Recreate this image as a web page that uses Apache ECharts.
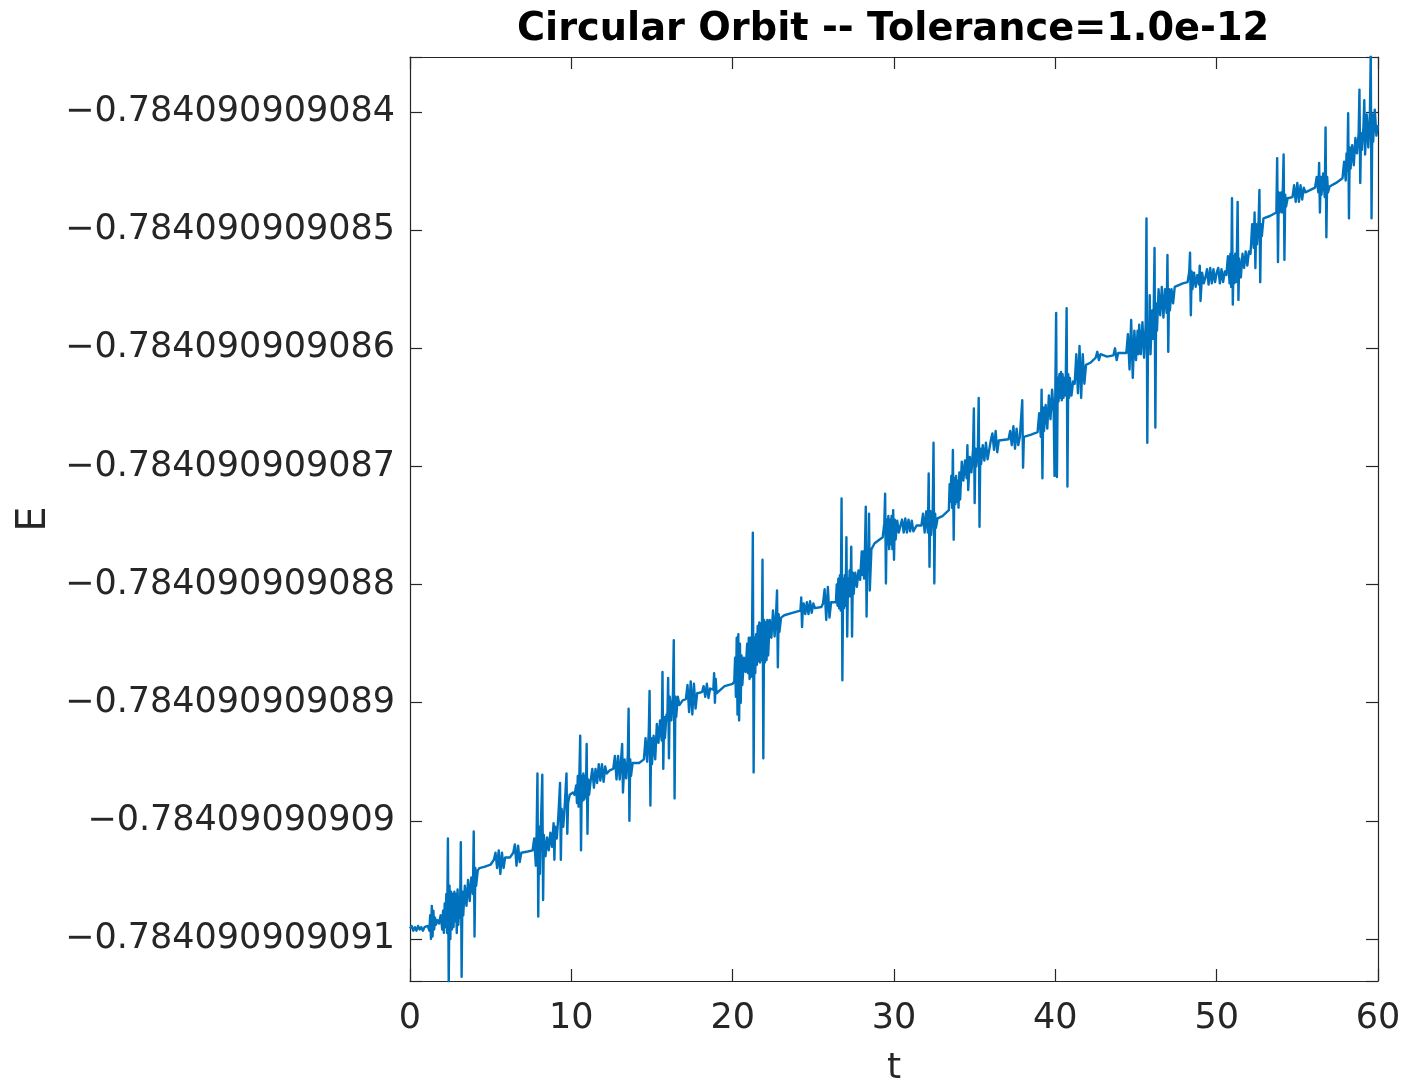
<!DOCTYPE html>
<html>
<head>
<meta charset="utf-8">
<script src="https://cdn.jsdelivr.net/npm/echarts@6/dist/echarts.min.js"></script>
<style>
  html, body { margin: 0; padding: 0; background: #ffffff; }
  #chart { width: 1408px; height: 1084px; }
</style>
</head>
<body>
<div id="chart"></div>
<script>
// Total energy E(t) of a circular orbit integrated with tolerance 1e-12.
// Values are stored as offsets dE from -0.784090909, in units of 1e-12:
// E = -0.784090909 + dE * 1e-12.  Each entry is [t, dE].
const energy0to10 = [
  [0.00,-90.91],[0.10,-90.89],[0.20,-90.93],[0.30,-90.90],[0.40,-90.93],[0.50,-90.89],[0.60,-90.92],
  [0.70,-90.90],[0.80,-90.93],[0.90,-90.90],[1.00,-90.91],[1.10,-90.89],[1.20,-90.93],[1.25,-90.80],
  [1.30,-91.00],[1.35,-90.72],[1.40,-90.98],[1.45,-90.76],[1.50,-90.92],[1.55,-90.82],[1.60,-90.88],
  [1.70,-90.84],[1.80,-90.87],[1.90,-90.80],[2.00,-90.92],[2.05,-90.76],[2.10,-90.95],[2.15,-90.70],
  [2.20,-90.90],[2.25,-90.62],[2.30,-90.95],[2.35,-90.15],[2.40,-91.40],[2.45,-90.55],[2.50,-91.00],
  [2.55,-90.60],[2.60,-90.92],[2.65,-90.62],[2.70,-90.90],[2.75,-90.60],[2.80,-90.85],[2.85,-90.62],
  [2.90,-90.95],[2.95,-90.58],[3.00,-90.88],[3.05,-90.65],[3.10,-90.82],[3.15,-90.18],[3.20,-91.32],
  [3.25,-90.60],[3.30,-90.80],[3.40,-90.55],[3.50,-90.72],[3.60,-90.50],[3.70,-90.68],[3.80,-90.48],
  [3.90,-90.62],[3.95,-90.09],[4.00,-90.98],[4.05,-90.40],[4.10,-90.55],[4.20,-90.42],[4.30,-90.40],
  [4.60,-90.39],[5.00,-90.37],[5.20,-90.33],[5.30,-90.27],[5.40,-90.40],[5.50,-90.25],[5.60,-90.45],
  [5.70,-90.27],[5.80,-90.40],[5.90,-90.31],[6.20,-90.31],[6.40,-90.27],[6.50,-90.20],[6.60,-90.38],
  [6.70,-90.21],[6.80,-90.35],[6.90,-90.27],[7.30,-90.26],[7.60,-90.25],[7.70,-90.15],[7.80,-90.38],
  [7.85,-90.10],[7.90,-89.60],[7.95,-90.81],[8.00,-90.05],[8.05,-90.45],[8.10,-90.10],[8.20,-89.61],
  [8.25,-90.67],[8.30,-90.12],[8.40,-90.30],[8.50,-90.14],[8.60,-90.25],[8.70,-90.10],[8.80,-90.22],
  [8.90,-90.02],[8.95,-90.33],[9.00,-90.05],[9.10,-90.15],[9.20,-89.95],[9.30,-89.68],[9.35,-90.33],
  [9.40,-89.90],[9.50,-90.05],[9.60,-89.85],[9.70,-89.60],[9.75,-90.11],[9.80,-89.85],[9.90,-89.78],
  [10.00,-89.79]
];

const energy10to20 = [
  [10.10,-89.76],[10.20,-89.78],[10.30,-89.70],[10.35,-89.85],[10.40,-89.62],[10.45,-89.88],[10.50,-89.60],
  [10.55,-89.28],[10.60,-90.25],[10.65,-89.62],[10.70,-89.83],[10.75,-89.60],[10.80,-89.82],[10.85,-89.62],
  [10.90,-89.80],[10.95,-89.35],[11.00,-90.11],[11.05,-89.65],[11.10,-89.78],[11.20,-89.66],[11.30,-89.56],
  [11.40,-89.72],[11.50,-89.56],[11.60,-89.68],[11.70,-89.52],[11.80,-89.66],[11.90,-89.52],[12.00,-89.67],
  [12.10,-89.54],[12.20,-89.60],[12.40,-89.57],[12.60,-89.56],[12.70,-89.45],[12.80,-89.65],[12.90,-89.45],
  [13.00,-89.65],[13.10,-89.45],[13.15,-89.35],[13.20,-89.76],[13.30,-89.48],[13.40,-89.64],[13.50,-89.45],
  [13.55,-89.05],[13.60,-90.00],[13.65,-89.48],[13.70,-89.62],[13.80,-89.51],[14.20,-89.51],[14.50,-89.48],
  [14.60,-89.30],[14.70,-89.50],[14.80,-89.25],[14.85,-88.90],[14.90,-89.87],[14.95,-89.30],[15.00,-89.52],
  [15.10,-89.28],[15.20,-89.48],[15.30,-89.18],[15.40,-89.34],[15.50,-89.15],[15.60,-89.32],[15.65,-88.74],
  [15.70,-89.56],[15.75,-89.12],[15.80,-89.30],[15.90,-89.10],[15.95,-89.15],[16.00,-88.79],[16.05,-89.47],
  [16.10,-88.95],[16.20,-89.15],[16.30,-88.92],[16.35,-88.47],[16.40,-89.81],[16.45,-88.95],[16.50,-89.12],
  [16.60,-88.95],[16.70,-89.02],[16.90,-88.98],[17.10,-88.97],[17.20,-88.85],[17.30,-89.08],[17.40,-88.82],
  [17.50,-89.10],[17.60,-88.84],[17.70,-89.05],[17.80,-88.92],[18.10,-88.91],[18.20,-88.86],[18.30,-88.95],
  [18.40,-88.84],[18.50,-88.96],[18.60,-88.88],[18.80,-88.89],[18.85,-88.75],[18.90,-89.00],[18.95,-88.80],
  [19.00,-88.92],[19.50,-88.86],[20.00,-88.84]
];

const energy20to30 = [
  [20.10,-88.82],[20.15,-88.62],[20.20,-88.95],[20.25,-88.45],[20.30,-89.10],[20.35,-88.42],[20.40,-89.15],
  [20.45,-88.50],[20.50,-89.00],[20.55,-88.60],[20.60,-88.85],[20.70,-88.62],[20.80,-88.74],[20.90,-88.50],
  [20.95,-88.75],[21.00,-88.45],[21.05,-88.80],[21.10,-88.45],[21.15,-88.78],[21.20,-88.48],[21.25,-87.56],
  [21.30,-89.59],[21.35,-88.45],[21.40,-88.75],[21.45,-88.42],[21.50,-88.68],[21.55,-88.35],[21.60,-88.65],
  [21.65,-88.32],[21.70,-88.66],[21.75,-88.33],[21.80,-88.64],[21.85,-87.79],[21.90,-89.47],[21.95,-88.30],
  [22.00,-88.66],[22.05,-88.32],[22.10,-88.64],[22.15,-88.30],[22.20,-88.60],[22.30,-88.30],[22.40,-88.45],
  [22.50,-88.22],[22.60,-88.44],[22.70,-88.22],[22.75,-88.05],[22.80,-88.70],[22.85,-88.25],[22.90,-88.40],
  [23.00,-88.28],[23.20,-88.26],[23.70,-88.24],[24.20,-88.22],[24.25,-88.11],[24.30,-88.36],[24.35,-88.20],
  [24.40,-88.16],[24.50,-88.25],[24.60,-88.15],[24.70,-88.25],[24.80,-88.14],[24.90,-88.24],[25.00,-88.16],
  [25.10,-88.20],[25.50,-88.19],[25.60,-88.16],[25.70,-88.04],[25.80,-88.30],[25.90,-88.02],[26.00,-88.28],
  [26.10,-88.15],[26.40,-88.15],[26.45,-88.00],[26.50,-88.18],[26.55,-87.95],[26.60,-88.20],[26.65,-87.92],
  [26.70,-88.22],[26.75,-87.27],[26.80,-88.81],[26.85,-87.95],[26.90,-88.20],[26.95,-87.92],[27.00,-88.18],
  [27.05,-87.60],[27.10,-88.44],[27.15,-87.95],[27.20,-88.10],[27.25,-87.88],[27.30,-88.10],[27.35,-87.68],
  [27.40,-88.44],[27.45,-87.90],[27.50,-88.08],[27.60,-87.90],[27.70,-88.02],[27.80,-87.88],[27.90,-87.96],
  [28.00,-87.72],[28.05,-87.92],[28.10,-87.72],[28.15,-87.95],[28.20,-87.70],[28.25,-87.34],[28.30,-88.27],
  [28.35,-87.75],[28.40,-87.88],[28.45,-87.40],[28.50,-88.05],[28.60,-87.70],[28.80,-87.65],[29.30,-87.60],
  [29.40,-87.48],[29.45,-87.23],[29.50,-87.99],[29.55,-87.45],[29.60,-87.66],[29.65,-87.42],[29.70,-87.70],
  [29.75,-87.45],[29.80,-87.66],[29.85,-87.42],[29.90,-87.70],[29.95,-87.37],[30.00,-87.79]
];

const energy30to40 = [
  [30.05,-87.45],[30.10,-87.62],[30.20,-87.46],[30.30,-87.56],[30.40,-87.50],[30.50,-87.45],[30.60,-87.56],
  [30.70,-87.44],[30.80,-87.56],[30.90,-87.45],[31.00,-87.55],[31.10,-87.46],[31.20,-87.55],[31.40,-87.50],
  [31.70,-87.50],[31.80,-87.40],[31.90,-87.56],[32.00,-87.38],[32.10,-87.56],[32.15,-87.06],[32.20,-87.85],
  [32.25,-87.38],[32.30,-87.58],[32.40,-87.36],[32.45,-86.80],[32.50,-87.99],[32.55,-87.40],[32.60,-87.52],
  [32.70,-87.44],[33.00,-87.42],[33.40,-87.37],[33.45,-87.15],[33.50,-87.30],[33.55,-87.08],[33.60,-87.35],
  [33.65,-86.86],[33.70,-87.62],[33.75,-87.10],[33.80,-87.32],[33.85,-87.08],[33.90,-87.30],[33.95,-87.12],
  [34.00,-87.35],[34.05,-87.05],[34.10,-87.28],[34.20,-86.96],[34.30,-87.12],[34.40,-86.95],[34.50,-87.10],
  [34.55,-86.82],[34.60,-87.20],[34.70,-86.92],[34.80,-87.05],[34.90,-86.85],[34.95,-86.51],[35.00,-87.31],
  [35.05,-86.85],[35.10,-87.00],[35.20,-86.84],[35.25,-86.42],[35.30,-87.51],[35.35,-86.85],[35.40,-86.98],
  [35.50,-86.82],[35.60,-86.95],[35.70,-86.80],[35.80,-86.94],[35.90,-86.86],[36.00,-86.78],[36.10,-86.72],
  [36.20,-86.86],[36.30,-86.70],[36.40,-86.88],[36.50,-86.78],[37.10,-86.77],[37.20,-86.70],[37.30,-86.82],
  [37.40,-86.66],[37.50,-86.85],[37.60,-86.68],[37.70,-86.82],[37.80,-86.75],[37.95,-86.44],[38.00,-87.01],
  [38.05,-86.75],[38.50,-86.73],[38.90,-86.71],[39.00,-86.55],[39.10,-86.75],[39.15,-86.35],[39.20,-87.10],
  [39.25,-86.50],[39.30,-86.70],[39.40,-86.48],[39.50,-86.68],[39.60,-86.40],[39.70,-86.60],[39.80,-86.35],
  [39.90,-86.55],[39.95,-87.08],[40.00,-86.35]
];

const energy40to50 = [
  [40.05,-85.70],[40.10,-87.09],[40.15,-86.25],[40.20,-86.45],[40.25,-86.22],[40.30,-86.42],[40.35,-86.20],
  [40.40,-86.44],[40.45,-86.22],[40.50,-86.42],[40.55,-86.25],[40.60,-86.40],[40.65,-86.22],[40.70,-85.66],
  [40.75,-87.17],[40.80,-86.22],[40.85,-86.42],[40.90,-86.25],[41.00,-86.40],[41.10,-86.28],[41.20,-86.30],
  [41.30,-86.05],[41.40,-86.38],[41.50,-85.98],[41.60,-86.42],[41.70,-86.05],[41.80,-86.30],[41.90,-86.14],
  [42.20,-86.12],[42.50,-86.08],[42.60,-86.03],[42.70,-86.10],[42.80,-86.05],[43.20,-86.07],[43.60,-86.06],
  [43.70,-86.00],[43.80,-86.10],[43.90,-86.04],[44.40,-86.04],[44.50,-85.88],[44.60,-86.18],[44.70,-85.76],
  [44.80,-86.25],[44.90,-85.85],[45.00,-86.10],[45.10,-85.85],[45.15,-86.05],[45.20,-85.80],[45.30,-86.05],
  [45.40,-85.78],[45.50,-86.08],[45.60,-85.80],[45.65,-84.90],[45.70,-86.80],[45.75,-85.82],[45.80,-86.00],
  [45.85,-85.55],[45.90,-86.05],[46.00,-85.68],[46.05,-85.92],[46.10,-85.65],[46.15,-85.15],[46.20,-86.67],
  [46.25,-85.62],[46.30,-85.85],[46.40,-85.50],[46.50,-85.72],[46.60,-85.48],[46.70,-85.74],[46.80,-85.50],
  [46.90,-85.70],[46.95,-85.21],[47.00,-86.03],[47.05,-85.50],[47.10,-85.68],[47.20,-85.50],[47.30,-85.62],
  [47.40,-85.48],[47.50,-85.48],[47.90,-85.45],[48.20,-85.44],[48.30,-85.35],[48.35,-85.19],[48.40,-85.72],
  [48.45,-85.35],[48.50,-85.50],[48.60,-85.36],[48.70,-85.48],[48.80,-85.38],[48.90,-85.46],[48.95,-85.30],
  [49.00,-85.60],[49.10,-85.36],[49.20,-85.45],[49.30,-85.40],[49.40,-85.33],[49.50,-85.46],[49.60,-85.32],
  [49.70,-85.45],[49.80,-85.33],[49.90,-85.44],[50.00,-85.36]
];

const energy50to60 = [
  [50.10,-85.32],[50.20,-85.45],[50.30,-85.33],[50.40,-85.44],[50.50,-85.35],[50.60,-85.38],[50.70,-85.22],
  [50.80,-85.45],[50.85,-85.20],[50.90,-85.48],[50.95,-84.73],[51.00,-85.63],[51.05,-85.22],[51.10,-85.45],
  [51.15,-85.20],[51.20,-85.44],[51.25,-85.22],[51.30,-84.76],[51.35,-85.59],[51.40,-85.24],[51.50,-85.40],
  [51.60,-85.20],[51.70,-85.32],[51.80,-85.18],[51.90,-85.30],[52.00,-85.18],[52.10,-85.20],[52.20,-84.95],
  [52.30,-85.15],[52.35,-84.85],[52.40,-85.32],[52.45,-84.95],[52.50,-85.12],[52.60,-84.92],[52.65,-84.66],
  [52.70,-85.44],[52.75,-84.95],[52.80,-85.05],[52.90,-84.90],[53.30,-84.88],[53.70,-84.85],[53.75,-84.39],
  [53.80,-85.27],[53.85,-84.68],[53.90,-84.85],[54.00,-84.68],[54.05,-84.85],[54.10,-84.66],[54.15,-84.36],
  [54.20,-85.25],[54.25,-84.70],[54.30,-84.80],[54.40,-84.73],[54.70,-84.72],[54.80,-84.62],[54.90,-84.76],
  [55.00,-84.60],[55.10,-84.76],[55.20,-84.62],[55.30,-84.74],[55.40,-84.64],[55.50,-84.68],[56.10,-84.64],
  [56.20,-84.55],[56.30,-84.68],[56.35,-84.43],[56.40,-84.85],[56.45,-84.55],[56.50,-84.70],[56.60,-84.52],
  [56.70,-84.72],[56.75,-84.13],[56.80,-85.06],[56.85,-84.55],[56.90,-84.68],[57.00,-84.63],[57.40,-84.60],
  [57.80,-84.56],[57.90,-84.42],[58.00,-84.58],[58.05,-84.35],[58.10,-84.50],[58.15,-84.01],[58.20,-84.90],
  [58.25,-84.30],[58.30,-84.48],[58.40,-84.28],[58.50,-84.45],[58.60,-84.22],[58.70,-84.35],[58.80,-84.18],
  [58.85,-83.81],[58.90,-84.60],[58.95,-84.18],[59.00,-84.32],[59.10,-84.12],[59.15,-83.90],[59.20,-84.36],
  [59.30,-84.02],[59.40,-84.30],[59.50,-84.00],[59.55,-83.50],[59.60,-84.90],[59.65,-84.02],[59.70,-84.25],
  [59.80,-83.98],[59.90,-84.20],[60.00,-84.11]
];

// Axis ticks (y ticks are the dE offsets and the labels they stand for)
const xTicks = [0, 10, 20, 30, 40, 50, 60];
const yTickOffsets = [-91, -90, -89, -88, -87, -86, -85, -84];
const yTickLabels = [
  '\u22120.784090909091', '\u22120.78409090909', '\u22120.784090909089', '\u22120.784090909088',
  '\u22120.784090909087', '\u22120.784090909086', '\u22120.784090909085', '\u22120.784090909084'
];

// Visible window of the energy axis, in dE units
const yLimits = [-91.356, -83.534];

const energy = [].concat(energy0to10, energy10to20, energy20to30,
                         energy30to40, energy40to50, energy50to60);

const ink = '#262626';
const tickFont = { fontFamily: 'DejaVu Sans', fontSize: 35, color: ink };

function yLabel(value) {
  const i = yTickOffsets.findIndex(v => Math.abs(v - value) < 1e-6);
  return i >= 0 ? yTickLabels[i] : '';
}

function boxAxisCommon() {
  return {
    axisLine: { show: true, onZero: false, lineStyle: { color: ink, width: 1.2 } },
    axisTick: { show: true, inside: true, length: 12, lineStyle: { color: ink, width: 1.2 } },
    splitLine: { show: false },
    minorTick: { show: false }
  };
}

const chart = echarts.init(document.getElementById('chart'), null, { renderer: 'canvas' });

chart.setOption({
  animation: false,
  backgroundColor: '#ffffff',
  title: {
    text: 'Circular Orbit -- Tolerance=1.0e-12',
    left: 517,
    top: 11,
    padding: 0,
    textStyle: { fontFamily: 'DejaVu Sans', fontWeight: 'bold', fontSize: 38.3, color: '#000000' }
  },
  grid: { left: 410, right: 30, top: 57, bottom: 103, containLabel: false, outerBoundsMode: 'none' },
  xAxis: [
    Object.assign(boxAxisCommon(), {
      type: 'value', position: 'bottom',
      min: xTicks[0], max: xTicks[xTicks.length - 1], interval: 10,
      name: 't', nameLocation: 'middle', nameGap: 70,
      nameTextStyle: { fontFamily: 'DejaVu Sans', fontSize: 36, color: ink },
      axisLabel: Object.assign({ margin: 20 }, tickFont)
    }),
    Object.assign(boxAxisCommon(), {
      type: 'value', position: 'top',
      min: xTicks[0], max: xTicks[xTicks.length - 1], interval: 10,
      axisLabel: { show: false }
    })
  ],
  yAxis: [
    Object.assign(boxAxisCommon(), {
      type: 'value', position: 'left',
      min: yLimits[0], max: yLimits[1], splitNumber: 8, scale: true,
      name: 'E', nameLocation: 'middle', nameGap: 355, nameRotate: 90,
      nameTextStyle: { fontFamily: 'DejaVu Sans', fontSize: 40, color: ink },
      axisLabel: Object.assign({ margin: 15, formatter: yLabel, showMinLabel: true, showMaxLabel: true }, tickFont)
    }),
    Object.assign(boxAxisCommon(), {
      type: 'value', position: 'right',
      min: yLimits[0], max: yLimits[1], splitNumber: 8, scale: true,
      axisLabel: { show: false }
    })
  ],
  series: [{
    type: 'line',
    xAxisIndex: 0,
    yAxisIndex: 0,
    data: energy,
    showSymbol: false,
    symbol: 'none',
    clip: true,
    silent: true,
    lineStyle: { color: '#0072BD', width: 2.4, join: 'round' }
  }]
});
</script>
</body>
</html>
